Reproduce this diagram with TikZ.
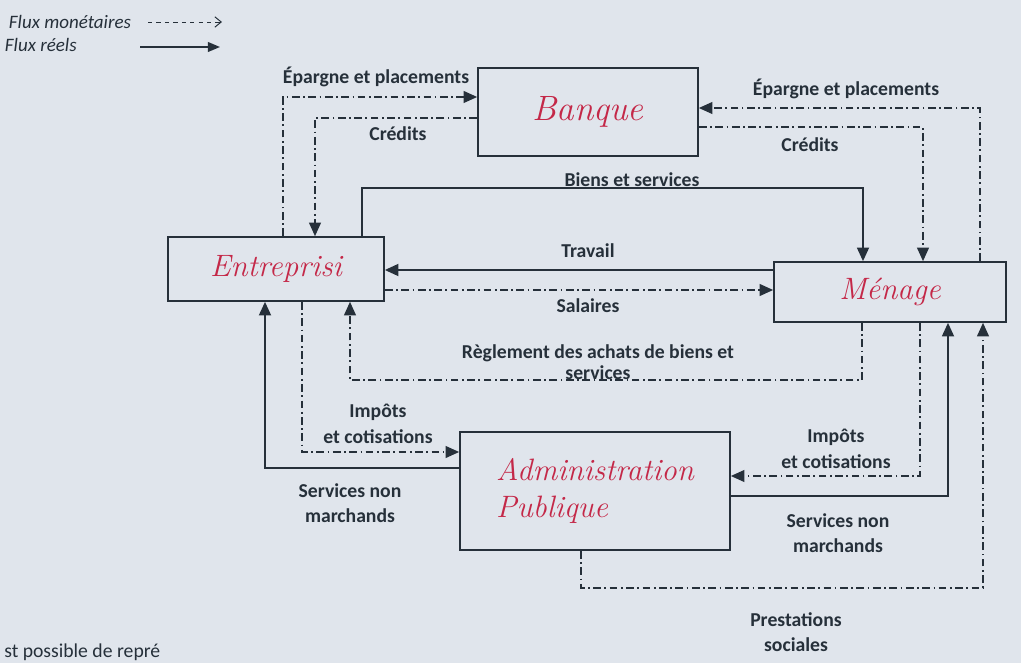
\documentclass[tikz,border=0pt]{standalone}
\usepackage{fontspec}
\newfontfamily\labelfont{Carlito}
\definecolor{ink}{RGB}{38,48,58}
\definecolor{hand}{RGB}{196,40,72}
\definecolor{paper}{RGB}{224,229,236}
\usetikzlibrary{arrows.meta,positioning,calc}

\begin{document}
\begin{tikzpicture}[x=0.025cm,y=-0.025cm,
  agent/.style={draw=ink,line width=1.2pt,text=hand,font=\itshape\fontsize{22}{26}\selectfont},
  reel/.style={draw=ink,line width=1.3pt,-{Triangle[length=3.4mm,width=3mm]}},
  mon/.style={draw=ink,line width=0.9pt,dash pattern=on 5.5pt off 2.5pt on 1.2pt off 2.5pt,-{Triangle[length=3.4mm,width=3mm]}},
  lbl/.style={text=ink,font=\labelfont\bfseries\fontsize{14}{18}\selectfont,align=center},
  legend/.style={text=ink,font=\labelfont\itshape\fontsize{13.5}{15}\selectfont}
]
  % Paper
  \fill[paper] (0,0) rectangle (1021,663);
  \useasboundingbox (0,0) rectangle (1021,663);

  % Legend
  \node[legend,anchor=west] (lmon) at (4,22) {Flux monétaires};
  \node[legend,anchor=west] (lreel) at (0,45) {Flux réels};
  \coordinate (m1) at (148,22);
  \coordinate (m2) at (222,22);
  \coordinate (r1) at (140,47);
  \coordinate (r2) at (220,47);
  \draw[ink,line width=0.7pt,dash pattern=on 3pt off 3pt,-{Straight Barb[length=1.6mm,width=2.6mm]}] (m1) -- (m2);
  \draw[ink,line width=1.3pt,-{Triangle[length=3mm,width=2.4mm]}] (r1) -- (r2);

  % Agents
  \node[agent,minimum width=5.5cm,minimum height=2.2cm,font=\itshape\fontsize{25}{28}\selectfont] (ban) at (588,112) {Banque};
  \node[agent,minimum width=5.4cm,minimum height=1.6cm] (ent) at (276,269) {Entreprisi};
  \node[agent,minimum width=5.8cm,minimum height=1.5cm] (men) at (890,292) {Ménage};
  \node[agent,minimum width=6.75cm,minimum height=2.95cm,align=left] (adm) at (595,491) {Administration\\Publique};

  % Banque <-> Entreprisi
  \draw[mon] (283,0 |- ent.north) |- (ban.west |- 0,97);
  \draw[mon] (ban.west |- 0,118) -| (315,0 |- ent.north);
  \node[lbl] (ep1) at (376,77) {Épargne et placements};
  \node[lbl] (cr1) at (398,134) {Crédits};

  % Banque <-> Ménage
  \draw[mon] (980,0 |- men.north) |- (ban.east |- 0,108);
  \draw[mon] (ban.east |- 0,127) -| (923,0 |- men.north);
  \node[lbl] (ep2) at (846,89) {Épargne et placements};
  \node[lbl] (cr2) at (810,145) {Crédits};

  % Entreprisi <-> Ménage
  \draw[reel] (362,0 |- ent.north) -- (362,188) -| (863,0 |- men.north);
  \draw[reel] (men.west |- 0,270) -- (ent.east |- 0,270);
  \draw[mon] (ent.east |- 0,290) -- (men.west |- 0,290);
  \draw[mon] (862,0 |- men.south) -- (862,380) -| (350,0 |- ent.south);
  \node[lbl] (bs) at (632,180) {Biens et services};
  \node[lbl] (tr) at (588,251) {Travail};
  \node[lbl] (sa) at (588,306) {Salaires};
  \node[lbl,font=\labelfont\bfseries\fontsize{14}{14.5}\selectfont] (ra) at (598,362) {Règlement des achats de biens et\\services};

  % Entreprisi <-> Administration
  \draw[mon] (302,0 |- ent.south) |- (adm.west |- 0,452);
  \draw[reel] (adm.west |- 0,468) -| (265,0 |- ent.south);
  \node[lbl] (ic1) at (378,424) {Impôts\\et cotisations};
  \node[lbl] (sn1) at (350,503) {Services non\\marchands};

  % Ménage <-> Administration
  \draw[mon] (920,0 |- men.south) |- (adm.east |- 0,476);
  \draw[reel] (adm.east |- 0,496) -| (948,0 |- men.south);
  \draw[mon] (581,0 |- adm.south) -- (581,588) -| (983,0 |- men.south);
  \node[lbl] (ic2) at (836,449) {Impôts\\et cotisations};
  \node[lbl] (sn2) at (838,533) {Services non\\marchands};
  \node[lbl] (ps) at (796,632) {Prestations\\sociales};

  % Page text
  \node[anchor=base west,text=ink,font=\labelfont\fontsize{14}{16}\selectfont,inner sep=0pt] (pg) at (4,657) {st possible de repré};
\end{tikzpicture}
\end{document}
